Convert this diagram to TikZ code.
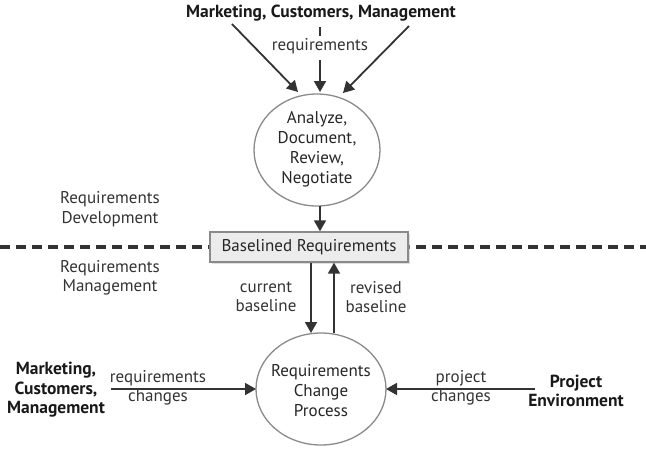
\documentclass[tikz,border=0pt]{standalone}
\usepackage{fontspec}
\setmainfont{PT Sans}
\usetikzlibrary{arrows.meta,shadows}
\definecolor{arr}{HTML}{333333}
\definecolor{edge}{HTML}{8A8A8A}
\definecolor{boxfill}{HTML}{ECECEC}
\tikzset{
  x=1pt,y=-1pt,
  every node/.style={font=\fontsize{17}{20}\selectfont, text=black!85, align=center, inner sep=0pt},
  lbl/.style={font=\fontsize{17}{19.5}\selectfont, text=black!80},
  src/.style={font=\fontsize{17.5}{19.5}\selectfont\bfseries, text=black!90},
  flow/.style={draw=arr, line width=1.8pt, -{Triangle[length=11pt,width=12pt]}},
}
\begin{document}
\begin{tikzpicture}
\useasboundingbox (0,0) rectangle (646,450);
% dashed divider
\draw[arr, line width=3.5pt, dash pattern=on 10pt off 6pt] (0,247) -- (646,247);
% top
\node[src] (top) at (321,13) {Marketing, Customers, Management};
\node[lbl] (req) at (320,46) {requirements};
\coordinate (t1) at (232,24);
\coordinate (t2) at (320,27);
\coordinate (t3) at (320,36);
\coordinate (t4) at (320,60);
\coordinate (t5) at (409,26);
% ellipse 1
\draw[edge, line width=1.3pt, fill=white] (317,150) ellipse [x radius=63, y radius=56];
\node (e1) at (317,149) {Analyze,\\Document,\\Review,\\Negotiate};
\coordinate (e1a) at (298,92);
\coordinate (e1b) at (320,92);
\coordinate (e1c) at (343,93);
\coordinate (e1bot) at (320,206);
\draw[arr, line width=1.8pt] (t2) -- (t3);
\draw[flow] (t1) -- (e1a);
\draw[flow] (t4) -- (e1b);
\draw[flow] (t5) -- (e1c);
% box
\node[draw=edge, line width=1.3pt, fill=boxfill, minimum width=198pt, minimum height=30pt,
      drop shadow={shadow xshift=2pt, shadow yshift=-2pt, fill=black!25}] (box) at (309,247) {Baselined Requirements};
\draw[flow] (e1bot) -- (box.north -| e1bot);
% labels
\node[lbl] (rd) at (110,209) {Requirements\\Development};
\node[lbl] (rm) at (110,278) {Requirements\\Management};
\node[lbl] (cb) at (266,297) {current\\baseline};
\node[lbl] (rb) at (376,297) {revised\\baseline};
% ellipse 2
\draw[edge, line width=1.3pt, fill=white] (321,389) ellipse [x radius=65, y radius=56];
\node (e2) at (321,391) {Requirements\\Change\\Process};
\coordinate (d1) at (311,333);
\coordinate (u1) at (334,333);
\draw[flow] (box.south -| d1) -- (d1);
\draw[flow] (u1) -- (box.south -| u1);
% left source
\node[src] (ls) at (56,390) {Marketing,\\Customers,\\Management};
\node[lbl] (rc) at (158,388) {requirements\\changes};
\coordinate (le) at (256,389);
\draw[flow] (111,389) -- (le);
% right source
\node[src] (rs) at (576,391) {Project\\Environment};
\node[lbl] (pc) at (461,388) {project\\changes};
\coordinate (re) at (386,389);
\draw[flow] (535,389) -- (re);
\end{tikzpicture}
\end{document}
